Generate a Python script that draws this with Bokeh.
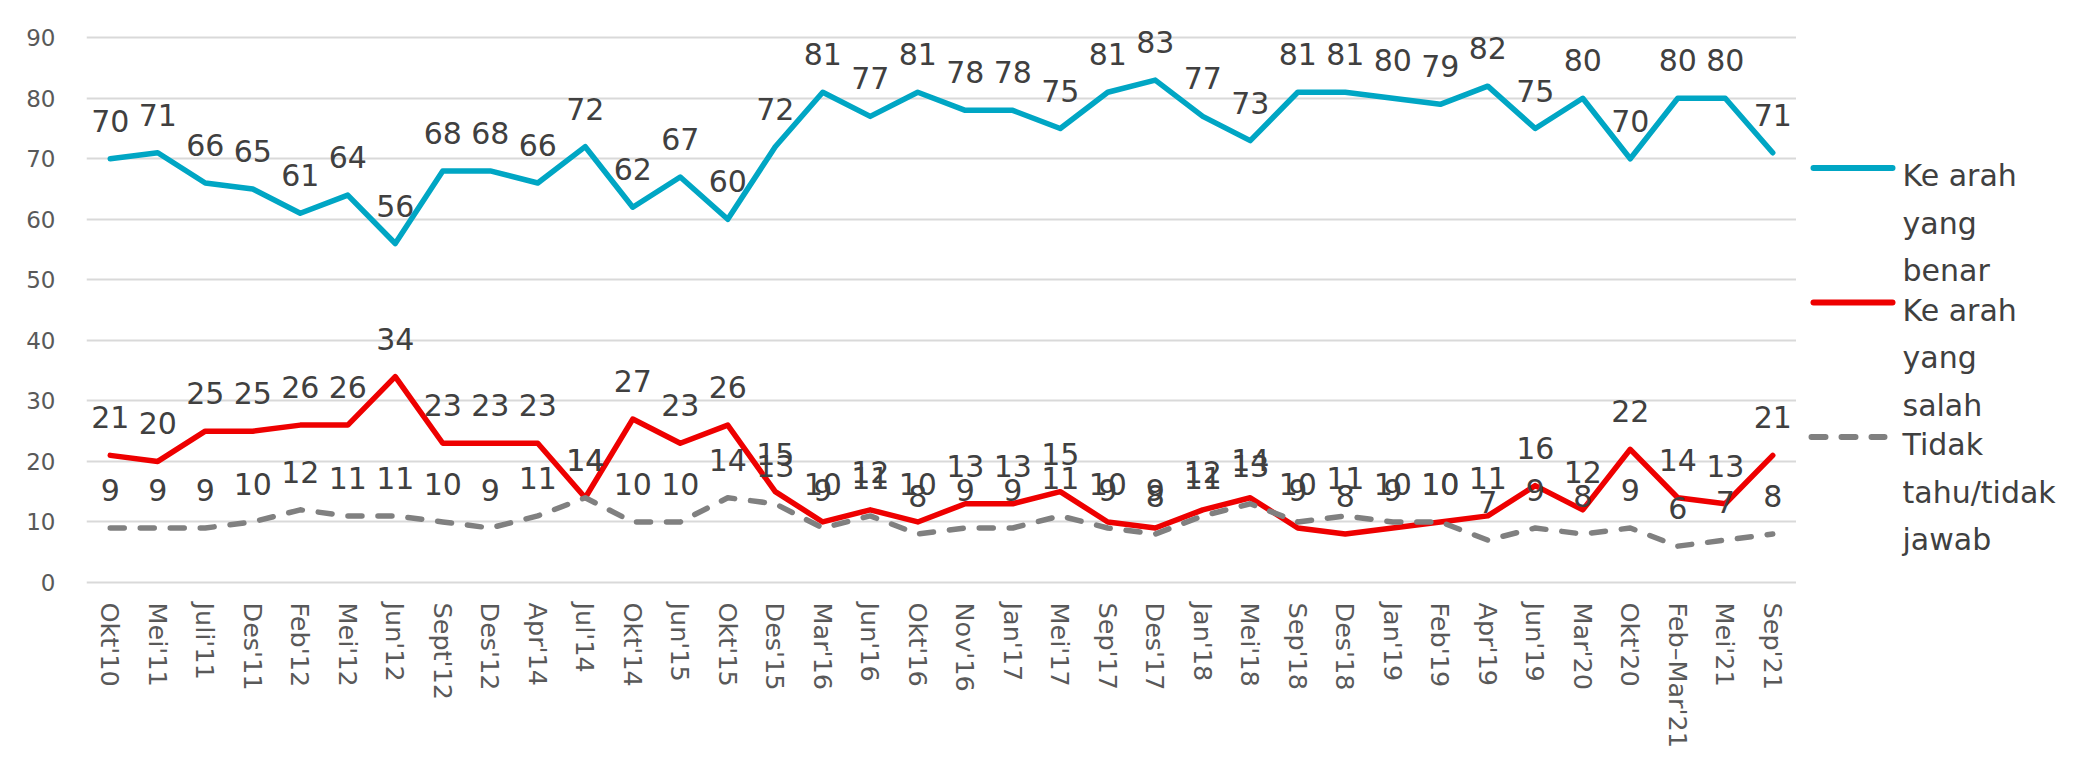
import math
from bokeh.plotting import figure
from bokeh.models import ColumnDataSource, FactorRange, Range1d, FixedTicker
from bokeh.layouts import row
from bokeh.embed import file_html
from bokeh.resources import INLINE
from bokeh.core.properties import value

# ---------------- data ----------------
categories = ["Okt'10", "Mei'11", "Juli'11", "Des'11", "Feb'12", "Mei'12", "Jun'12", "Sept'12",
              "Des'12", "Apr'14", "Jul'14", "Okt'14", "Jun'15", "Okt'15", "Des'15", "Mar'16",
              "Jun'16", "Okt'16", "Nov'16", "Jan'17", "Mei'17", "Sep'17", "Des'17", "Jan'18",
              "Mei'18", "Sep'18", "Des'18", "Jan'19", "Feb'19", "Apr'19", "Jun'19", "Mar'20",
              "Okt'20", "Feb\u2013Mar'21", "Mei'21", "Sep'21"]
benar = [70, 71, 66, 65, 61, 64, 56, 68, 68, 66, 72, 62, 67, 60, 72, 81, 77, 81, 78, 78,
         75, 81, 83, 77, 73, 81, 81, 80, 79, 82, 75, 80, 70, 80, 80, 71]
salah = [21, 20, 25, 25, 26, 26, 34, 23, 23, 23, 14, 27, 23, 26, 15, 10, 12, 10, 13, 13,
         15, 10, 9, 12, 14, 9, 8, 9, 10, 11, 16, 12, 22, 14, 13, 21]
tidak = [9, 9, 9, 10, 12, 11, 11, 10, 9, 11, 14, 10, 10, 14, 13, 9, 11, 8, 9, 9,
         11, 9, 8, 11, 13, 10, 11, 10, 10, 7, 9, 8, 9, 6, 7, 8]
series_names = ["Ke arah yang benar", "Ke arah yang salah", "Tidak tahu/tidak jawab"]
legend_lines = [["Ke arah", "yang", "benar"],
                ["Ke arah", "yang", "salah"],
                ["Tidak", "tahu/tidak", "jawab"]]
y_ticks = [0, 10, 20, 30, 40, 50, 60, 70, 80, 90]

# ---------------- styles / geometry ----------------
FONT = "DejaVu Sans"
BLUE = "#00A6C4"
RED = "#EE0000"
GRAY = "#808080"
LABEL_COLOR = "#404040"
TICK_COLOR = "#595959"

TOTAL_H = 751
TOP = 10
LEFT_W, PLOT_W, LEG_W = 86, 1710, 270
PX_PER_UNIT = 575 / 95.0                 # vertical pixels per value unit
Y0_AXIS, Y1 = -0.5, 94.5                 # value span of the chart area
FRAME_H = TOTAL_H - TOP
Y0 = Y1 - FRAME_H / PX_PER_UNIT          # extend downward to hold category labels
XLAB_Y = Y0_AXIS - 17 / PX_PER_UNIT      # category labels start 17px below the axis

src = ColumnDataSource(dict(
    x=categories,
    benar=benar, salah=salah, tidak=tidak,
    benar_t=[str(v) for v in benar],
    salah_t=[str(v) for v in salah],
    tidak_t=[str(v) for v in tidak],
))

common = dict(output_backend="svg", toolbar_location=None,
              x_axis_location=None, y_axis_location=None,
              frame_height=FRAME_H, min_border_top=TOP, min_border_bottom=0,
              min_border_left=0, min_border_right=0)

yr = Range1d(Y0, Y1)

# ---------------- main plot ----------------
p = figure(x_range=FactorRange(*categories), y_range=yr, frame_width=PLOT_W, **common)
p.outline_line_color = None
p.xgrid.grid_line_color = None
p.ygrid.ticker = FixedTicker(ticks=y_ticks)
p.ygrid.grid_line_color = "#D9D9D9"
p.ygrid.grid_line_width = 2

p.line(x="x", y="benar", source=src, line_color=BLUE, line_width=5.5,
       line_join="round", line_cap="round")
p.line(x="x", y="salah", source=src, line_color=RED, line_width=5.5,
       line_join="round", line_cap="round")
p.line(x="x", y="tidak", source=src, line_color=GRAY, line_width=5.5,
       line_join="round", line_cap="round", line_dash="14 16")

for col in ["benar", "salah", "tidak"]:
    p.text(x="x", y=col, text=col + "_t", source=src, y_offset=-38,
           text_align="center", text_baseline="alphabetic",
           text_font=value(FONT), text_font_size="30px", text_color=LABEL_COLOR)

# rotated category labels below the value axis
p.text(x="x", y=XLAB_Y, text="x", source=src, angle=-math.pi / 2,
       text_align="left", text_baseline="middle",
       text_font=value(FONT), text_font_size="25.5px", text_color=TICK_COLOR)

# ---------------- y tick labels panel ----------------
yf = figure(x_range=Range1d(0, LEFT_W), y_range=yr, frame_width=LEFT_W, **common)
yf.outline_line_color = None
yf.xgrid.visible = False
yf.ygrid.visible = False
yf.text(x=55, y=y_ticks, text=[str(v) for v in y_ticks],
        text_align="right", text_baseline="middle",
        text_font=value(FONT), text_font_size="23px", text_color=TICK_COLOR)

# ---------------- legend panel (coordinates = page pixels) ----------------
page_left = LEFT_W + PLOT_W
q = figure(x_range=Range1d(page_left, page_left + LEG_W), y_range=Range1d(TOTAL_H, TOP),
           frame_width=LEG_W, **common)
q.outline_line_color = None
q.xgrid.visible = False
q.ygrid.visible = False

colors = [BLUE, RED, GRAY]
dashes = ["solid", "solid", "14 16"]
for i, (lines, c, d) in enumerate(zip(legend_lines, colors, dashes)):
    base = 175 + 134.5 * i
    x0, x1 = (1813, 1892) if d == "solid" else (1811, 1884)
    q.line(x=[x0, x1], y=[base - 7.5, base - 7.5],
           line_color=c, line_width=6, line_cap="round", line_dash=d)
    q.text(x=[1902] * len(lines), y=[base + 47.5 * k for k in range(len(lines))], text=lines,
           text_baseline="alphabetic", text_align="left",
           text_font=value(FONT), text_font_size="30px", text_color=LABEL_COLOR)

layout = row(yf, p, q)
open("out.html", "w").write(file_html(layout, INLINE))
